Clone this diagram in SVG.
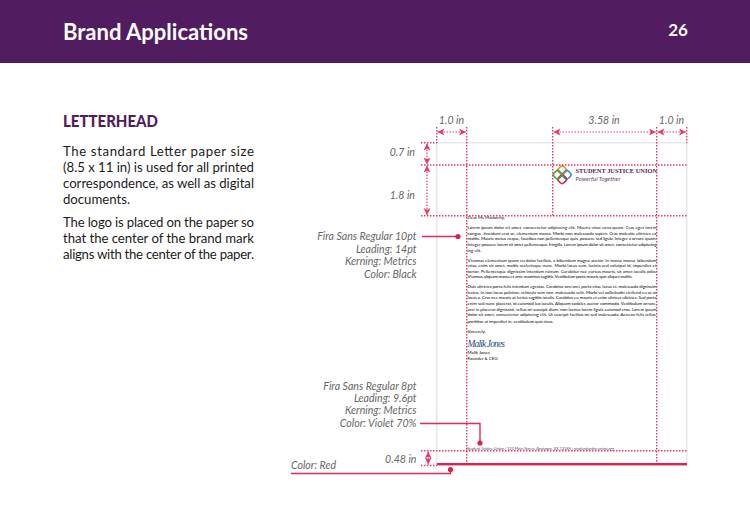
<svg xmlns="http://www.w3.org/2000/svg" width="750" height="530" viewBox="0 0 750 530">
<style>
text{font-family:"Lato","Noto Sans",sans-serif}
.body{font-size:13.2px;fill:#1c1c1c;font-weight:400}
.note,.dim{font-size:10.6px;font-style:italic;fill:#666}
.note{text-anchor:end}
.guide{fill:none;stroke:#e93a62;stroke-width:1.4;stroke-dasharray:1.5 1.5}
.dimline{fill:none;stroke:#e93a62;stroke-width:1.2;stroke-dasharray:1.5 1.5;marker-start:url(#ah);marker-end:url(#ah)}
.lead{fill:none;stroke:#e42a55;stroke-width:1.4}
.dot{fill:#e02048}
.let{font-size:4.4px;fill:#000;font-weight:400}
.ring{fill:none;stroke-width:1.6}
</style>
<defs>
<marker id="ah" markerWidth="8" markerHeight="8" refX="7" refY="3.5" orient="auto-start-reverse" markerUnits="userSpaceOnUse">
<path d="M0 0L7 3.5L0 7L1.8 3.5Z" fill="#e93a62"/>
</marker>
</defs>
<rect width="750" height="530" fill="#fff"/>
<g id="header">
<rect width="750" height="63" fill="#521c60"/>
<text x="63" y="40" font-size="23" font-weight="700" fill="#fff" textLength="185" lengthAdjust="spacingAndGlyphs">Brand Applications</text>
<text x="678" y="35.5" font-size="17" font-weight="700" fill="#fff" text-anchor="middle">26</text>
</g>
<g id="copy">
<text x="63" y="127" font-size="16" font-weight="900" fill="#521c60" textLength="95" lengthAdjust="spacingAndGlyphs">LETTERHEAD</text>
<text class="body" x="63" y="156" textLength="191">The standard Letter paper size</text>
<text class="body" x="63" y="172" textLength="191">(8.5 x 11 in) is used for all printed</text>
<text class="body" x="63" y="187.5" textLength="191">correspondence, as well as digital</text>
<text class="body" x="63" y="203.5" textLength="67">documents.</text>
<text class="body" x="63" y="227" textLength="191">The logo is placed on the paper so</text>
<text class="body" x="63" y="243" textLength="191">that the center of the brand mark</text>
<text class="body" x="63" y="259" textLength="191">aligns with the center of the paper.</text>
</g>
<g id="paper">
<path d="M436.7 465V142.7H686.7V465" fill="none" stroke="#e8e8e8" stroke-width="1.6"/>
</g>
<g id="logo">
<rect class="ring" x="558.5" y="166.5" width="7.5" height="7.5" rx="2.5" stroke="#f28c1e" transform="rotate(45 562.2 170.2)"/>
<rect class="ring" x="563" y="171" width="7.5" height="7.5" rx="2.5" stroke="#2d8fd5" transform="rotate(45 566.7 174.7)"/>
<rect class="ring" x="558.5" y="175.5" width="7.5" height="7.5" rx="2.5" stroke="#d8213c" transform="rotate(45 562.2 179.2)"/>
<rect class="ring" x="554" y="171" width="7.5" height="7.5" rx="2.5" stroke="#3aaa4a" transform="rotate(45 557.7 174.7)"/>
<text x="575.5" y="173" font-size="7" font-weight="700" fill="#521c60" textLength="81.5" lengthAdjust="spacingAndGlyphs" style="font-family:'Liberation Serif',serif">STUDENT JUSTICE UNION</text>
<text x="575.5" y="181" font-size="6" font-style="italic" fill="#6a3d78" textLength="45">Powerful Together</text>
</g>
<g id="letter">
<text class="let" x="467.5" y="218.5">Dear Ms Madarchy,</text>
<text class="let" x="467.5" y="229" textLength="189">Lorem ipsum dolor sit amet, consectetur adipiscing elit. Mauris vitae urna quam. Cras eget lorem</text>
<text class="let" x="467.5" y="234.5" textLength="189">congue, tincidunt erat ac, elementum massa. Morbi non malesuada sapien. Cras molestie ultricies ex</text>
<text class="let" x="467.5" y="240" textLength="189">mattis. Mauris metus neque, faucibus non pellentesque quis, posuere sed ligula. Integer a ornare quam.</text>
<text class="let" x="467.5" y="245.5" textLength="189">Integer posuere lorem sit amet pellentesque fringilla. Lorem ipsum dolor sit amet, consectetur adipiscing</text>
<text class="let" x="467.5" y="251.5">ing elit.</text>
<text class="let" x="467.5" y="261.5" textLength="189">Vivamus elementum quam eu dolor facilisis, a bibendum magna auctor. In massa massa, bibendum</text>
<text class="let" x="467.5" y="267" textLength="189">vitae enim sit amet, mattis scelerisque nunc. Morbi lacus sem, lacinia sed volutpat id, imperdiet et</text>
<text class="let" x="467.5" y="272.5" textLength="189">tortor. Pellentesque dignissim interdum rutrum. Curabitur nec cursus mauris, sit amet iaculis odio.</text>
<text class="let" x="467.5" y="278" textLength="165">Vivamus aliquam massa et ante maximus sagittis. Vestibulum porta mauris quis aliquet mattis.</text>
<text class="let" x="467.5" y="288" textLength="189">Duis ultricies porta felis interdum egestas. Curabitur orci orci, porta vitae lacus et, malesuada dignissim</text>
<text class="let" x="467.5" y="293.5" textLength="189">lectus. In non lacus pulvinar, vehicula sem non, malesuada velit. Morbi vel sollicitudin eleifend eu ac at</text>
<text class="let" x="467.5" y="299" textLength="189">lacus a. Cras nec mauris at lectus sagittis iaculis. Curabitur eu mauris et enim ultrices ultricies. Sed porta</text>
<text class="let" x="467.5" y="305" textLength="189">enim sed nunc placerat, id euismod leo iaculis. Aliquam sodales auctor commodo. Vestibulum ornare,</text>
<text class="let" x="467.5" y="310.5" textLength="189">orci in placerat dignissim, tellus mi suscipit diam, non lacinia lorem ligula euismod eros. Lorem ipsum</text>
<text class="let" x="467.5" y="316" textLength="189">dolor sit amet, consectetur adipiscing elit. Ut suscipit facilisis mi sed malesuada. Aenean felis tellus,</text>
<text class="let" x="467.5" y="322.5" textLength="86">porttitor at imperdiet in, vestibulum quis risus.</text>
<text class="let" x="467.5" y="332.5">Sincerely,</text>
<text x="467.5" y="346.5" font-size="9.5" font-style="italic" fill="#1f4e8c" style="font-family:'Liberation Serif',serif" textLength="37.5">Malik Jones</text>
<text class="let" x="467.5" y="354">Malik Jones</text>
<text class="let" x="467.5" y="359.5">Founder &amp; CEO</text>
<text x="467" y="450" font-size="3.6" fill="#5f3a72" textLength="147" lengthAdjust="spacingAndGlyphs">Student Justice Union | 123 Main Street, Anytown, XX 12345 | studentjusticeunion.org</text>
</g>
<g id="connectors">
<path class="guide" d="M421 142.7H437M421 165H687M421 215.7H687M421 450.7H687M421 465.5H437"/>
<path class="guide" d="M436.7 127V143M466.7 127V465M552.7 127V215.7M656.7 127V465M686.7 127V143"/>
<path class="dimline" d="M437.5 132H466"/>
<path class="dimline" d="M553.5 132H656"/>
<path class="dimline" d="M657.5 132H686"/>
<path class="dimline" d="M427 143.5V164.5"/>
<path class="dimline" d="M427 165.5V215"/>
<path class="dimline" d="M428.2 451.5V464.5"/>
<path class="lead" d="M422 236.5H458"/>
<circle class="dot" cx="458" cy="236.5" r="2.6"/>
<path class="lead" d="M420 423.5H480V443"/>
<circle class="dot" cx="480" cy="443" r="2.6"/>
<path class="lead" d="M291 473.5H450.5V470"/>
<circle class="dot" cx="450.5" cy="469.5" r="2.6"/>
<rect x="437" y="463" width="250" height="2.4" fill="#e02048"/>
</g>
<g id="labels">
<text class="dim" x="451.5" y="124" text-anchor="middle">1.0 in</text>
<text class="dim" x="604" y="124" text-anchor="middle">3.58 in</text>
<text class="dim" x="671.5" y="124" text-anchor="middle">1.0 in</text>
<text class="note" x="415" y="156">0.7 in</text>
<text class="note" x="415" y="199">1.8 in</text>
<text class="note" x="416.5" y="240">Fira Sans Regular 10pt</text>
<text class="note" x="416.5" y="253">Leading: 14pt</text>
<text class="note" x="416.5" y="265">Kerning: Metrics</text>
<text class="note" x="416.5" y="278">Color: Black</text>
<text class="note" x="416.5" y="390">Fira Sans Regular 8pt</text>
<text class="note" x="416.5" y="402">Leading: 9.6pt</text>
<text class="note" x="416.5" y="414">Kerning: Metrics</text>
<text class="note" x="416.5" y="427">Color: Violet 70%</text>
<text class="note" x="416.5" y="463">0.48 in</text>
<text x="291" y="469" font-size="10.6" font-style="italic" fill="#666">Color: Red</text>
</g>
</svg>
